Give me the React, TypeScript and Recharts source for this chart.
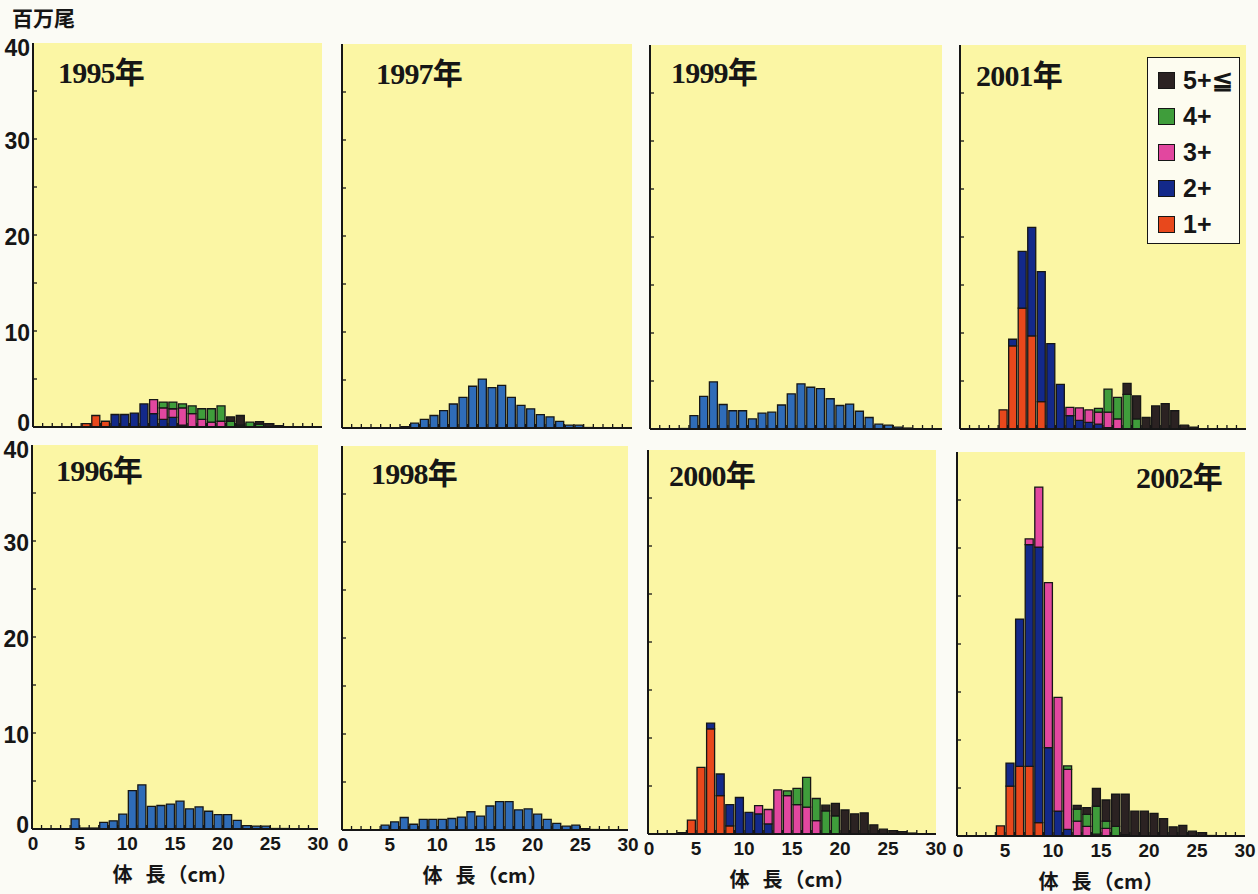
import React from 'react';
import { BarChart, Bar, XAxis, YAxis, CartesianGrid, Legend } from 'recharts';

// ---------- data ----------
// length classes (cm, lower bound of 1-cm class)
const lengthClasses = [0, 1, 2, 3, 4, 5, 6, 7, 8, 9, 10, 11, 12, 13, 14, 15, 16, 17, 18, 19, 20, 21, 22, 23, 24, 25, 26, 27, 28, 29];
const xTicks = [0, 1, 2, 3, 4, 5, 6, 7, 8, 9, 10, 11, 12, 13, 14, 15, 16, 17, 18, 19, 20, 21, 22, 23, 24, 25, 26, 27, 28, 29, 30];
const yTicks = [0, 5, 10, 15, 20, 25, 30, 35, 40];

const ageKeys = ['a1', 'a2', 'a3', 'a4', 'a5'];
const ageNames = ['1+', '2+', '3+', '4+', '5+≦'];
const ageColors = ['#e8481c', '#13298a', '#e2479f', '#3f9d3b', '#2b2222'];
const totalColor = '#2f6cb8';

// 1995 (by age, millions)
const age1_1995 = [0, 0, 0, 0, 0, 0.35, 1.2, 0.6, 0, 0, 0, 0, 0, 0, 0, 0, 0, 0, 0, 0, 0, 0, 0, 0, 0, 0, 0, 0, 0, 0];
const age2_1995 = [0, 0, 0, 0, 0, 0, 0, 0, 1.3, 1.3, 1.45, 2.4, 1.4, 0.8, 1.0, 0.2, 0, 0, 0, 0, 0, 0, 0, 0, 0, 0, 0, 0, 0, 0];
const age3_1995 = [0, 0, 0, 0, 0, 0, 0, 0, 0, 0, 0, 0, 1.45, 1.2, 0.9, 1.8, 1.4, 0.8, 0.5, 0.6, 0, 0, 0, 0, 0, 0, 0, 0, 0, 0];
const age4_1995 = [0, 0, 0, 0, 0, 0, 0, 0, 0, 0, 0, 0, 0, 0.6, 0.7, 0.4, 0.8, 1.1, 1.4, 1.6, 0.6, 0.2, 0.5, 0.3, 0, 0, 0, 0, 0, 0];
const age5_1995 = [0, 0, 0, 0, 0, 0, 0, 0, 0, 0, 0, 0, 0, 0, 0, 0, 0, 0, 0, 0, 0.45, 1.0, 0, 0.25, 0.35, 0.15, 0, 0, 0, 0];

// 1996-1999 (totals, millions)
const total1996 = [0, 0, 0, 0, 1.05, 0.1, 0.1, 0.7, 0.85, 1.55, 4.0, 4.6, 2.35, 2.45, 2.6, 2.9, 2.1, 2.3, 1.85, 1.5, 1.5, 0.9, 0.35, 0.3, 0.3, 0.05, 0.05, 0, 0, 0];
const total1997 = [0, 0, 0, 0, 0, 0.03, 0.15, 0.5, 0.9, 1.3, 1.8, 2.5, 3.2, 4.35, 5.1, 4.2, 4.45, 3.2, 2.35, 2.0, 1.4, 1.15, 0.7, 0.3, 0.3, 0.05, 0, 0, 0, 0];
const total1998 = [0, 0, 0, 0, 0.5, 0.85, 1.3, 0.6, 1.1, 1.1, 1.1, 1.2, 1.35, 1.9, 1.45, 2.5, 2.95, 2.95, 2.1, 2.2, 1.65, 1.1, 0.7, 0.4, 0.5, 0.15, 0.05, 0, 0, 0];
const total1999 = [0, 0, 0, 0.05, 1.4, 3.4, 4.9, 2.55, 1.9, 1.9, 1.05, 1.65, 1.75, 2.5, 3.65, 4.7, 4.35, 4.2, 3.15, 2.45, 2.6, 1.85, 1.2, 0.5, 0.4, 0.2, 0.1, 0, 0, 0];

// 2000 (by age)
const age1_2000 = [0, 0, 0, 0.15, 1.45, 6.95, 10.95, 4.0, 0.85, 0, 0, 0, 0, 0, 0, 0, 0, 0, 0, 0, 0, 0, 0, 0, 0, 0, 0, 0, 0, 0];
const age2_2000 = [0, 0, 0, 0, 0, 0, 0.6, 2.25, 2.2, 3.8, 2.25, 2.1, 1.05, 0, 0, 0, 0, 0, 0, 0, 0, 0, 0, 0, 0, 0, 0, 0, 0, 0];
const age3_2000 = [0, 0, 0, 0, 0, 0, 0, 0, 0, 0, 0, 0.85, 1.5, 4.6, 4.0, 3.05, 2.8, 1.4, 0, 0, 0, 0, 0, 0, 0, 0, 0, 0, 0, 0];
const age4_2000 = [0, 0, 0, 0, 0, 0, 0, 0, 0, 0, 0, 0, 0, 0, 0.5, 1.7, 3.1, 2.3, 2.4, 1.9, 0, 0, 0, 0, 0, 0, 0, 0, 0, 0];
const age5_2000 = [0, 0, 0, 0, 0, 0, 0, 0, 0, 0, 0, 0, 0, 0, 0, 0, 0, 0, 0.6, 1.3, 2.5, 2.1, 2.2, 0.95, 0.5, 0.35, 0.25, 0.1, 0, 0];

// 2001 (by age)
const age1_2001 = [0, 0, 0, 0, 2.0, 8.65, 12.6, 9.7, 2.85, 0, 0, 0, 0, 0, 0, 0, 0, 0, 0, 0, 0, 0, 0, 0, 0, 0, 0, 0, 0, 0];
const age2_2001 = [0, 0, 0, 0, 0, 0.7, 5.9, 11.3, 13.55, 8.9, 4.65, 1.4, 0.9, 0.7, 0.5, 0.15, 0, 0, 0, 0, 0, 0, 0, 0, 0, 0, 0, 0, 0, 0];
const age3_2001 = [0, 0, 0, 0, 0, 0, 0, 0, 0, 0, 0, 0.85, 1.3, 1.3, 1.25, 1.6, 1.05, 0, 0, 0, 0, 0, 0, 0, 0, 0, 0, 0, 0, 0];
const age4_2001 = [0, 0, 0, 0, 0, 0, 0, 0, 0, 0, 0, 0, 0, 0, 0.4, 2.4, 2.25, 3.6, 1.05, 0, 0, 0, 0, 0, 0, 0, 0, 0, 0, 0];
const age5_2001 = [0, 0, 0, 0, 0, 0, 0, 0, 0, 0, 0, 0, 0, 0, 0, 0, 0, 1.15, 2.4, 1.2, 2.4, 2.65, 1.9, 0.4, 0.2, 0, 0, 0, 0, 0];

// 2002 (by age)
const age1_2002 = [0, 0, 0, 0, 1.05, 5.2, 7.25, 7.25, 1.4, 0, 0, 0, 0, 0, 0, 0, 0, 0, 0, 0, 0, 0, 0, 0, 0, 0, 0, 0, 0, 0];
const age2_2002 = [0, 0, 0, 0, 0, 2.4, 15.35, 23.1, 28.7, 9.2, 2.6, 0.7, 0, 0, 0, 0, 0, 0, 0, 0, 0, 0, 0, 0, 0, 0, 0, 0, 0, 0];
const age3_2002 = [0, 0, 0, 0, 0, 0, 0, 0.6, 6.25, 17.2, 11.85, 6.25, 1.55, 1.0, 0.2, 0.8, 0, 0, 0, 0, 0, 0, 0, 0, 0, 0, 0, 0, 0, 0];
const age4_2002 = [0, 0, 0, 0, 0, 0, 0, 0, 0, 0, 0, 0.35, 1.25, 1.25, 2.9, 0.75, 1.0, 0.15, 0, 0, 0, 0, 0, 0, 0, 0, 0, 0, 0, 0];
const age5_2002 = [0, 0, 0, 0, 0, 0, 0, 0, 0, 0, 0, 0, 0.4, 0.7, 1.85, 2.2, 3.35, 4.2, 2.6, 2.6, 2.35, 1.8, 0.95, 1.1, 0.5, 0.35, 0.05, 0, 0, 0];

// ---------- helpers ----------
const ageRows = (series: number[][]) =>
  lengthClasses.map((c, i) => {
    const row: any = { x: c + 0.5 };
    ageKeys.forEach((k, j) => { row[k] = series[j][i]; });
    return row;
  });
const totalRows = (t: number[]) => lengthClasses.map((c, i) => ({ x: c + 0.5, t: t[i] }));

const SANS = "'Liberation Sans', Arial, sans-serif";
const CJK = "'Noto Sans CJK JP', sans-serif";
const SERIF = "'Liberation Serif', 'Noto Sans CJK JP', serif";
const PLOT_BG = '#fbf6a4';
const INK = '#161616';

const PLOT_H = 384;
const ML = 50, MT = 12, MR = 12, MB = 70;

type Spec = {
  year: string; left: number; top: number; width: number;
  rows: any[]; byAge: boolean; yLabels: boolean; xLabels: boolean;
  yl: number; yb: number; anchorRight?: boolean; legend?: boolean;
};

const panels: Spec[] = [
  { year: '1995年', left: 33, top: 43, width: 289, rows: ageRows([age1_1995, age2_1995, age3_1995, age4_1995, age5_1995]), byAge: true, yLabels: true, xLabels: false, yl: 58, yb: 82 },
  { year: '1997年', left: 342, top: 44, width: 290, rows: totalRows(total1997), byAge: false, yLabels: false, xLabels: false, yl: 376, yb: 83 },
  { year: '1999年', left: 650, top: 45, width: 292, rows: totalRows(total1999), byAge: false, yLabels: false, xLabels: false, yl: 671, yb: 82 },
  { year: '2001年', left: 960, top: 45, width: 286, rows: ageRows([age1_2001, age2_2001, age3_2001, age4_2001, age5_2001]), byAge: true, yLabels: false, xLabels: false, yl: 976, yb: 85, legend: true },
  { year: '1996年', left: 32, top: 445, width: 286, rows: totalRows(total1996), byAge: false, yLabels: true, xLabels: true, yl: 56, yb: 480 },
  { year: '1998年', left: 342, top: 446, width: 286, rows: totalRows(total1998), byAge: false, yLabels: false, xLabels: true, yl: 371, yb: 483 },
  { year: '2000年', left: 648, top: 450, width: 288, rows: ageRows([age1_2000, age2_2000, age3_2000, age4_2000, age5_2000]), byAge: true, yLabels: false, xLabels: true, yl: 669, yb: 485 },
  { year: '2002年', left: 957, top: 452, width: 288, rows: ageRows([age1_2002, age2_2002, age3_2002, age4_2002, age5_2002]), byAge: true, yLabels: false, xLabels: true, yl: 1222, yb: 487, anchorRight: true },
];

const LEG_LEFT = 1147, LEG_TOP = 57;

// ---------- ticks ----------
const XTick = (props: any) => {
  const { x, y, payload, showLabel } = props;
  const v = payload.value;
  return (
    <g>
      {v > 0 && v < 30 && <line x1={x} y1={y} x2={x} y2={y - 4} stroke={INK} strokeWidth={1.3} />}
      {showLabel && v % 5 === 0 && (
        <text x={v === 0 ? x + 1 : x} y={y + 21} textAnchor="middle" fontFamily={SANS} fontWeight="bold" fontSize={19} fill={INK}>{v}</text>
      )}
    </g>
  );
};

const YTick = (props: any) => {
  const { x, y, payload, showLabel } = props;
  const v = payload.value;
  const dy = v === 0 ? 4 : v === 40 ? 13 : 9.5;
  return (
    <g>
      {v > 0 && v < 40 && <line x1={x} y1={y} x2={x + 4} y2={y} stroke={INK} strokeWidth={1.3} />}
      {showLabel && v % 10 === 0 && (
        <text x={x - 3} y={y} dy={dy} textAnchor="end" fontFamily={SANS} fontWeight="bold" fontSize={23} fill={INK}>{v}</text>
      )}
    </g>
  );
};

const renderLegend = (props: any) => {
  const items = [...(props.payload || [])].reverse();
  return (
    <div style={{ width: 93, height: 187, boxSizing: 'border-box', border: `1.5px solid ${INK}`, background: '#fdfcf0', paddingTop: 4, paddingLeft: 10 }}>
      {items.map((it: any) => (
        <div key={it.value} style={{ display: 'flex', alignItems: 'center', height: 36 }}>
          <span style={{ display: 'inline-block', width: 15, height: 15, background: it.payload?.fill ?? it.color, border: `1px solid ${INK}`, marginRight: 8 }} />
          <span style={{ fontFamily: SANS, fontWeight: 'bold', fontSize: 25, color: INK, lineHeight: '26px' }}>{it.value}</span>
        </div>
      ))}
    </div>
  );
};

const Panel = ({ s }: { s: Spec }) => {
  const W = s.width + ML + MR;
  const H = PLOT_H + MT + MB;
  const cLeft = s.left - ML;
  const cTop = s.top - MT;
  const frame = { stroke: INK, strokeWidth: 2 };
  return (
    <div style={{ position: 'absolute', left: cLeft, top: cTop, width: W, height: H }}>
      <BarChart width={W} height={H} data={s.rows} margin={{ top: MT, right: MR, bottom: 0, left: 0 }} barSize={8}>
        <CartesianGrid fill={PLOT_BG} horizontal={false} vertical={false} />
        <XAxis dataKey="x" type="number" domain={[0, 30]} ticks={xTicks} interval={0} allowDataOverflow
          tickLine={false} tickSize={0} tickMargin={0} height={MB} axisLine={frame}
          tick={(p: any) => <XTick {...p} showLabel={s.xLabels} />} />
        <XAxis xAxisId="top" orientation="top" type="number" domain={[0, 30]} tick={false} tickLine={false} height={0} axisLine={frame} />
        <YAxis type="number" domain={[0, 40]} ticks={yTicks} interval={0} allowDataOverflow
          tickLine={false} tickSize={0} tickMargin={0} width={ML} axisLine={frame}
          tick={(p: any) => <YTick {...p} showLabel={s.yLabels} />} />
        <YAxis yAxisId="right" orientation="right" type="number" domain={[0, 40]} tick={false} tickLine={false} width={0} axisLine={frame} />
        {s.byAge
          ? ageKeys.map((k, j) => (
              <Bar key={k} dataKey={k} name={ageNames[j]} stackId="s" fill={ageColors[j]} stroke={INK} strokeWidth={1.3} isAnimationActive={false} />
            ))
          : <Bar dataKey="t" name="total" fill={totalColor} stroke={INK} strokeWidth={1.3} isAnimationActive={false} />}
        {s.legend && (
          <Legend layout="vertical" align="center" verticalAlign="middle" content={renderLegend}
            wrapperStyle={{ left: LEG_LEFT - cLeft, top: LEG_TOP - cTop, width: 93, height: 187 }} />
        )}
      </BarChart>
      {s.xLabels && (
        <div style={{ position: 'absolute', left: ML, top: MT + PLOT_H + 34, width: s.width, textAlign: 'center', fontFamily: CJK, fontWeight: 'bold', fontSize: 20, lineHeight: '22px', color: INK, whiteSpace: 'nowrap' }}>
          <span>体</span><span style={{ marginLeft: 13 }}>長</span><span style={{ marginLeft: 2 }}>（cm）</span>
        </div>
      )}
    </div>
  );
};

export default function App() {
  return (
    <div style={{ position: 'absolute', left: 0, top: 0, width: 1258, height: 894, background: '#fbfbf5', overflow: 'hidden' }}>
      <div style={{ position: 'absolute', left: 12, top: 5, fontFamily: CJK, fontWeight: 'bold', fontSize: 21, lineHeight: '24px', color: INK }}>百万尾</div>
      {panels.map((s) => <Panel key={s.year} s={s} />)}
      {panels.map((s) => (
        <div key={'y' + s.year}
          style={{
            position: 'absolute', top: s.yb - 24.5,
            ...(s.anchorRight ? { right: 1258 - s.yl } : { left: s.yl }),
            fontFamily: SERIF, fontWeight: 'bold', fontSize: 30, lineHeight: '30px', color: INK, letterSpacing: -0.8, whiteSpace: 'nowrap',
          }}>
          {s.year}
        </div>
      ))}
    </div>
  );
}
